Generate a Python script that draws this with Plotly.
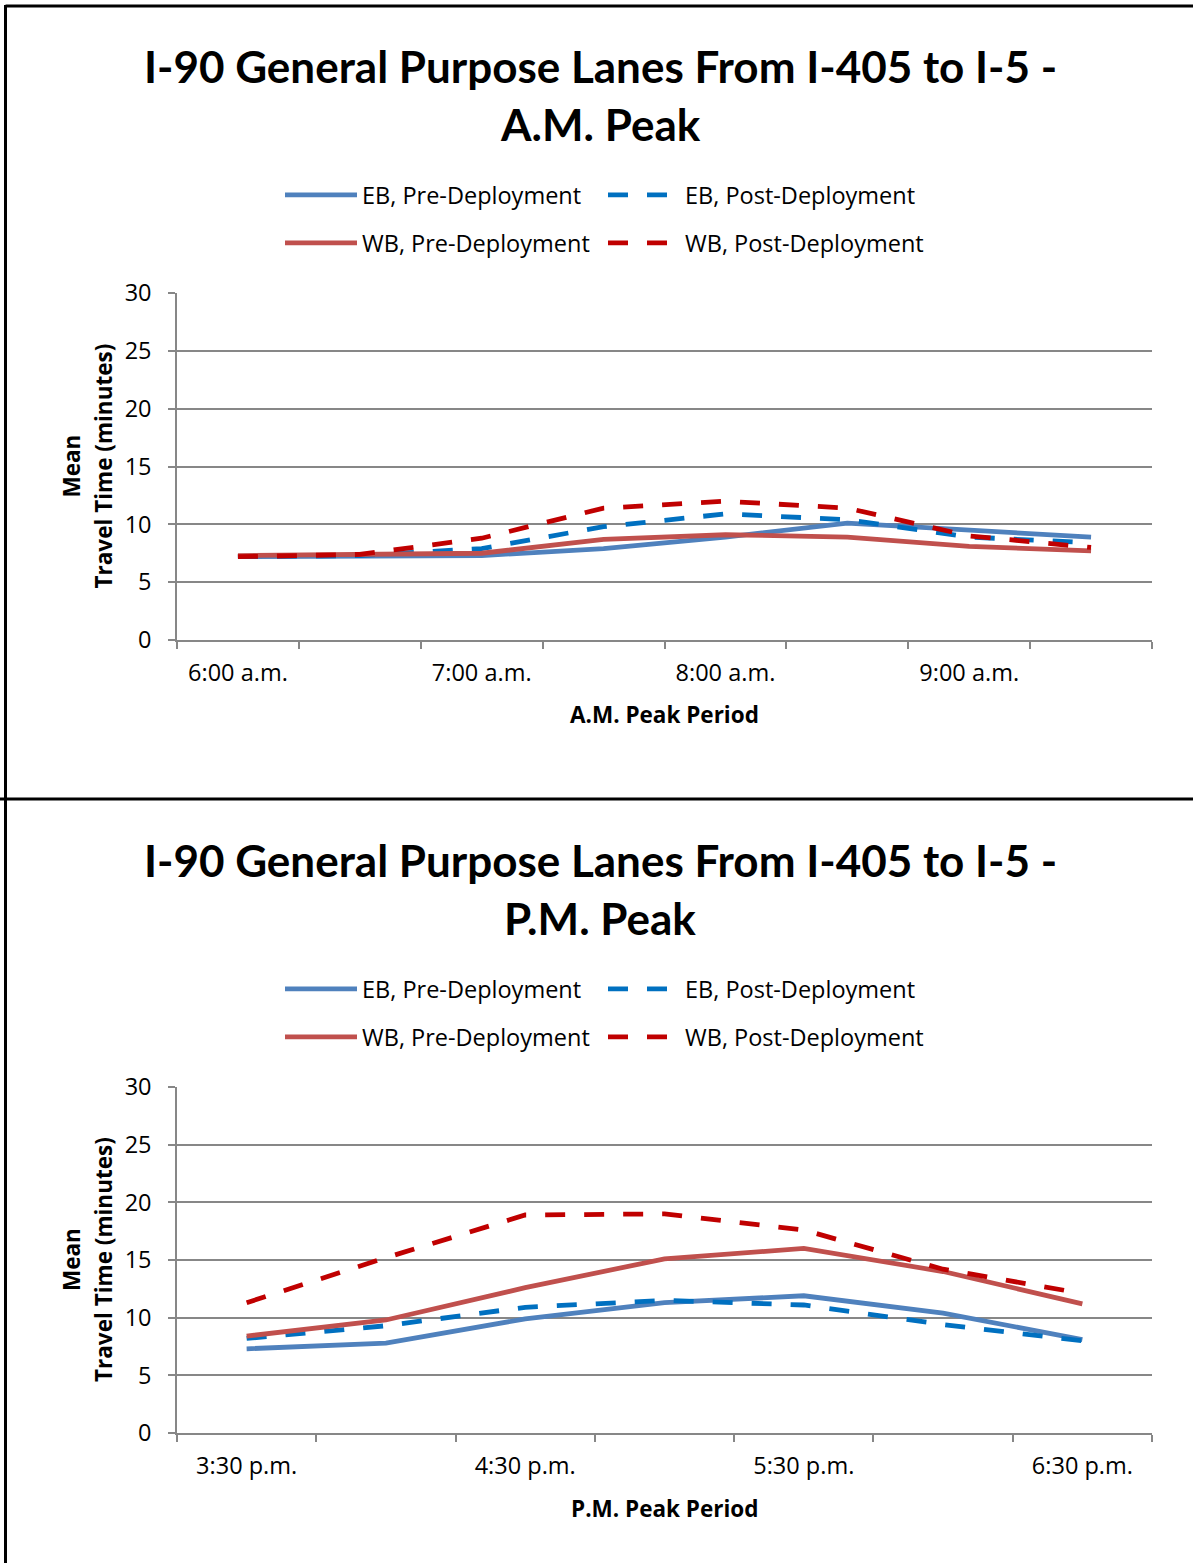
import plotly.graph_objects as go

# ---------------- data ----------------
am_times = ["6:00 a.m.", "6:30 a.m.", "7:00 a.m.", "7:30 a.m.",
            "8:00 a.m.", "8:30 a.m.", "9:00 a.m.", "9:30 a.m."]
am_eb_pre = [7.2, 7.2, 7.3, 7.9, 8.9, 10.1, 9.5, 8.9]
am_eb_post = [7.2, 7.3, 7.9, 9.8, 10.9, 10.4, 8.9, 8.4]
am_wb_pre = [7.3, 7.4, 7.5, 8.7, 9.1, 8.9, 8.1, 7.7]
am_wb_post = [7.2, 7.4, 8.8, 11.4, 12.0, 11.4, 9.0, 8.0]

pm_times = ["3:30 p.m.", "4:00 p.m.", "4:30 p.m.", "5:00 p.m.",
            "5:30 p.m.", "6:00 p.m.", "6:30 p.m."]
pm_eb_pre = [7.3, 7.8, 9.9, 11.3, 11.9, 10.4, 8.1]
pm_eb_post = [8.2, 9.3, 10.9, 11.5, 11.1, 9.4, 8.0]
pm_wb_pre = [8.4, 9.8, 12.6, 15.1, 16.0, 14.0, 11.2]
pm_wb_post = [11.3, 15.2, 18.9, 19.0, 17.6, 14.2, 12.1]

series_names = ["EB, Pre-Deployment", "EB, Post-Deployment",
                "WB, Pre-Deployment", "WB, Post-Deployment"]
series_colors = ["#4F81BD", "#0070C0", "#C0504D", "#C00000"]
series_dash = ["solid", "20px,19px", "solid", "20px,19px"]

titles = [("I-90 General Purpose Lanes From I-405 to I-5 -", "A.M. Peak"),
          ("I-90 General Purpose Lanes From I-405 to I-5 -", "P.M. Peak")]
x_titles = ["A.M. Peak Period", "P.M. Peak Period"]
y_title = ("Mean", "Travel Time (minutes)")

# ---------------- layout helpers ----------------
W, H = 1193, 1563
TFONT = "Lato"
FONT = "Open Sans"
GRID = "#878787"
TXT = 23.5
AXT = 22.5


def px(x):
    return x / W


def py(y):
    return 1 - y / H


fig = go.Figure()

charts = [
    dict(times=am_times, vals=[am_eb_pre, am_eb_post, am_wb_pre, am_wb_post],
         top=293, bottom=640, off=0),
    dict(times=pm_times, vals=[pm_eb_pre, pm_eb_post, pm_wb_pre, pm_wb_post],
         top=1087, bottom=1433, off=794),
]

legend_layouts = {}
annotations = []
shapes = []
leg_idx = 0
for ci, ch in enumerate(charts):
    xa = "x" if ci == 0 else "x2"
    ya = "y" if ci == 0 else "y2"
    off = ch["off"]
    for si in range(4):
        leg_idx += 1
        lname = "legend" if leg_idx == 1 else f"legend{leg_idx}"
        row = si // 2
        col = si % 2
        lx = 285 if col == 0 else 608
        ly = (195 if row == 0 else 243) + off
        legend_layouts[lname] = dict(
            x=px(lx - 5), y=py(ly), xanchor="left", yanchor="middle",
            orientation="h", itemwidth=72, bgcolor="rgba(0,0,0,0)",
            borderwidth=0, font=dict(family=FONT, size=TXT, color="#000000"),
            tracegroupgap=0,
        )
        fig.add_trace(go.Scatter(
            x=ch["times"], y=ch["vals"][si], mode="lines",
            name=series_names[si], legend=lname,
            line=dict(color=series_colors[si], width=4.8, dash=series_dash[si]),
            xaxis=xa, yaxis=ya, showlegend=True,
        ))
    # titles
    for li, ty in enumerate((66, 124)):
        annotations.append(dict(text="<b>%s</b>" % titles[ci][li], x=px(600), y=py(ty + off),
                                xref="paper", yref="paper", showarrow=False,
                                xanchor="center", yanchor="middle",
                                font=dict(family=TFONT, size=44, color="#000000")))
    # axis titles
    annotations.append(dict(text="<b>%s</b>" % x_titles[ci], x=px(664.5), y=py(714 + off),
                            xref="paper", yref="paper", showarrow=False,
                            xanchor="center", yanchor="middle",
                            font=dict(family=FONT, size=AXT, color="#000000")))
    mid = (ch["top"] + ch["bottom"]) / 2
    annotations.append(dict(text="<b>%s</b>" % y_title[0], x=px(71), y=py(mid),
                            xref="paper", yref="paper", showarrow=False, textangle=-90,
                            xanchor="center", yanchor="middle",
                            font=dict(family=FONT, size=AXT, color="#000000")))
    annotations.append(dict(text="<b>%s</b>" % y_title[1], x=px(103), y=py(mid),
                            xref="paper", yref="paper", showarrow=False, textangle=-90,
                            xanchor="center", yanchor="middle",
                            font=dict(family=FONT, size=AXT, color="#000000")))

# frame lines
shapes.append(dict(type="line", xref="paper", yref="paper", x0=px(5.5), x1=1.0,
                   y0=py(6), y1=py(6), line=dict(color="black", width=3)))
shapes.append(dict(type="line", xref="paper", yref="paper", x0=px(5.5), x1=px(5.5),
                   y0=py(5), y1=0, line=dict(color="black", width=3)))
shapes.append(dict(type="line", xref="paper", yref="paper", x0=0, x1=1.0,
                   y0=py(799), y1=py(799), line=dict(color="black", width=3)))

axis_common = dict(
    type="category", showgrid=False, showline=True, linecolor=GRID, linewidth=1.5,
    ticks="outside", ticklen=7, tickcolor=GRID, tickwidth=1.5, tickson="boundaries",
    ticklabelstep=2, tickfont=dict(family=FONT, size=TXT, color="#000000"),
    zeroline=False, fixedrange=True, ticklabelstandoff=11, automargin=False,
)
yaxis_common = dict(
    range=[0, 30], dtick=5, tick0=0, showgrid=True, gridcolor=GRID, gridwidth=1.5,
    showline=True, linecolor=GRID, linewidth=1.5, ticks="outside", ticklen=7,
    tickcolor=GRID, tickwidth=1.5, zeroline=False, automargin=False,
    tickfont=dict(family=FONT, size=TXT, color="#000000"), ticklabelstandoff=12,
)

fig.update_layout(
    width=W, height=H, autosize=False,
    margin=dict(l=0, r=0, t=0, b=0, pad=0, autoexpand=False),
    paper_bgcolor="white", plot_bgcolor="white",
    xaxis=dict(domain=[px(177), px(1152)], anchor="y",
               range=[-0.5, len(am_times) - 0.5], **axis_common),
    yaxis=dict(domain=[py(640), py(293)], anchor="x", **yaxis_common),
    xaxis2=dict(domain=[px(177), px(1152)], anchor="y2",
                range=[-0.5, len(pm_times) - 0.5], **axis_common),
    yaxis2=dict(domain=[py(1433), py(1087)], anchor="x2", **yaxis_common),
    annotations=annotations,
    shapes=shapes,
    **legend_layouts,
)

fig.write_html("out.html")
